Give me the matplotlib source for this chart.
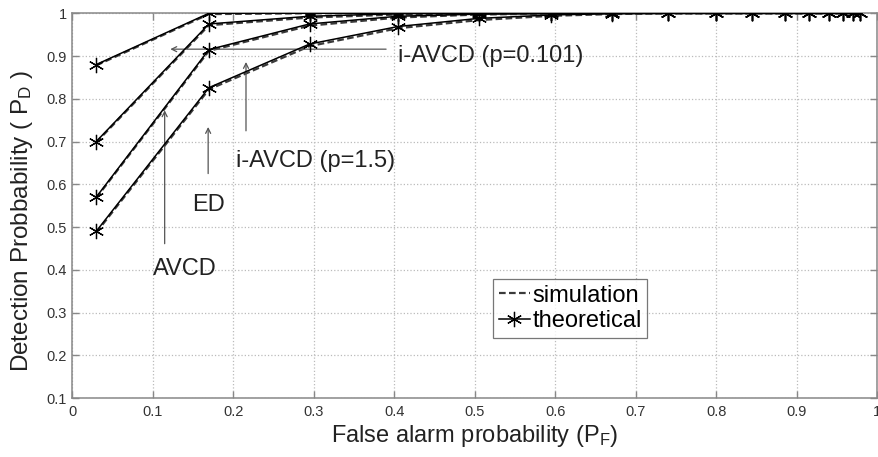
import matplotlib
matplotlib.use("Agg")
import matplotlib.pyplot as plt

plt.rcParams['font.family'] = ['Liberation Sans', 'DejaVu Sans']
plt.rcParams['mathtext.default'] = 'regular'

# false alarm probabilities (threshold sweep)
pf = [0.03, 0.17, 0.295, 0.405, 0.505, 0.595, 0.67, 0.74, 0.80, 0.845,
      0.885, 0.915, 0.94, 0.958, 0.97, 0.978]

# theoretical detection probabilities, four detectors
pd_theory = [
    [0.88, 1.0, 1.0, 1.0, 1.0, 1.0, 1.0, 1.0, 1.0, 1.0, 1.0, 1.0, 1.0, 1.0, 1.0, 1.0],
    [0.70, 0.975, 0.993, 0.999, 1.0, 1.0, 1.0, 1.0, 1.0, 1.0, 1.0, 1.0, 1.0, 1.0, 1.0, 1.0],
    [0.57, 0.915, 0.975, 0.993, 0.998, 1.0, 1.0, 1.0, 1.0, 1.0, 1.0, 1.0, 1.0, 1.0, 1.0, 1.0],
    [0.49, 0.826, 0.928, 0.969, 0.988, 0.996, 0.999, 1.0, 1.0, 1.0, 1.0, 1.0, 1.0, 1.0, 1.0, 1.0],
]

# simulated detection probabilities
pd_sim = [
    [0.878, 0.998, 1.0, 1.0, 1.0, 1.0, 1.0, 1.0, 1.0, 1.0, 1.0, 1.0, 1.0, 1.0, 1.0, 1.0],
    [0.698, 0.972, 0.990, 0.997, 0.999, 1.0, 1.0, 1.0, 1.0, 1.0, 1.0, 1.0, 1.0, 1.0, 1.0, 1.0],
    [0.568, 0.912, 0.971, 0.990, 0.997, 0.999, 1.0, 1.0, 1.0, 1.0, 1.0, 1.0, 1.0, 1.0, 1.0, 1.0],
    [0.487, 0.822, 0.923, 0.965, 0.984, 0.994, 0.998, 1.0, 1.0, 1.0, 1.0, 1.0, 1.0, 1.0, 1.0, 1.0],
]

# annotations: text, text baseline position, arrow start, arrow tip
notes = [
    ("i-AVCD (p=0.101)", (0.405, 0.886), (0.39, 0.916), (0.122, 0.916)),
    ("i-AVCD (p=1.5)", (0.204, 0.640), (0.216, 0.725), (0.216, 0.886)),
    ("ED", (0.149, 0.537), (0.169, 0.625), (0.169, 0.734)),
    ("AVCD", (0.100, 0.388), (0.115, 0.461), (0.115, 0.773)),
]

fig = plt.figure(figsize=(8.79, 4.57), dpi=100)
ax = fig.add_axes([0.082, 0.129, 0.916, 0.842])

star = (6, 2, 0)
for k in range(len(pd_theory)):
    ax.plot(pf, pd_sim[k], linestyle='--', color='#3a3a3a', lw=1.6, dashes=(3, 1.5),
            label='simulation' if k == 0 else None, zorder=3)
    ax.plot(pf, pd_theory[k], linestyle='-', color='black', lw=1.1, marker=star,
            markersize=11, markeredgewidth=0.9,
            label='theoretical' if k == 0 else None, zorder=4)

for text, tpos, start, tip in notes:
    ax.annotate("", xy=tip, xytext=start,
                arrowprops=dict(arrowstyle='->', color='#555555', lw=0.9,
                                mutation_scale=9, shrinkA=0, shrinkB=0))
    ax.text(tpos[0], tpos[1], text, fontsize=17, color='#222222',
            ha='left', va='baseline')

ax.set_xlim(0, 1)
ax.set_ylim(0.1, 1)
ax.set_xticks([i / 10 for i in range(11)])
ax.set_xticklabels(['0', '0.1', '0.2', '0.3', '0.4', '0.5', '0.6', '0.7', '0.8', '0.9', '1'])
ax.set_yticks([i / 10 for i in range(1, 11)])
ax.set_yticklabels(['0.1', '0.2', '0.3', '0.4', '0.5', '0.6', '0.7', '0.8', '0.9', '1'])
ax.tick_params(direction='in', length=5, width=1, color='#888888',
               labelsize=10.5, labelcolor='#333333', top=True, right=True)
ax.tick_params(axis='x', pad=5)
ax.grid(True, linestyle=':', color='#bbbbbb', lw=0.9)
for s in ax.spines.values():
    s.set_color('#888888')
    s.set_linewidth(1.1)

ax.set_xlabel('False alarm probability (P$_F$)', fontsize=17, color='#222222', labelpad=3)
ax.set_ylabel('Detection Probbability ( P$_D$ )', fontsize=17.5, color='#222222')
ax.yaxis.set_label_coords(-0.046, 0.46)

leg = ax.legend(loc='lower left', bbox_to_anchor=(0.523, 0.156), fontsize=17,
                frameon=True, fancybox=False, handlelength=1.3, handletextpad=0.1,
                borderpad=0.25, labelspacing=0.15, borderaxespad=0)
leg.get_frame().set_edgecolor('#555555')
leg.get_frame().set_linewidth(0.9)

fig.savefig('out.png', dpi=100)
